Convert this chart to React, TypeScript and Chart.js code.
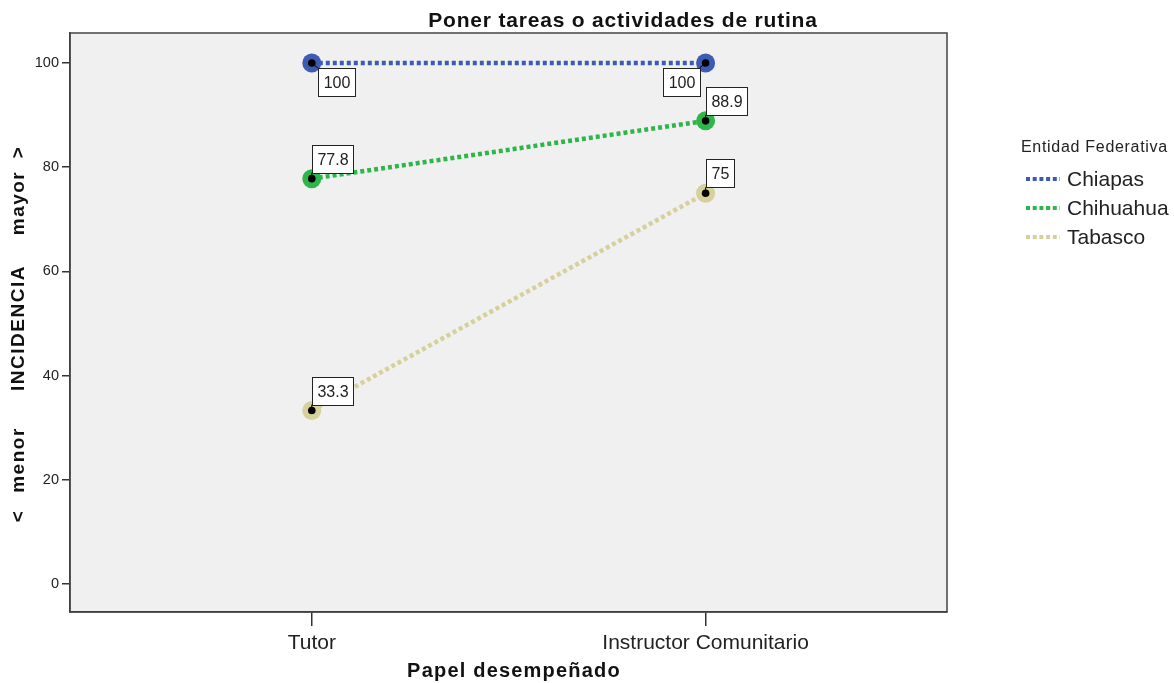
import React, { useEffect, useRef } from "react";
import { Chart, registerables } from "chart.js";

Chart.register(...registerables);

const categories = ["Tutor", "Instructor Comunitario"];
const seriesNames = ["Chiapas", "Chihuahua", "Tabasco"];
const chiapasValues = [100, 100];
const chihuahuaValues = [77.8, 88.9];
const tabascoValues = [33.3, 75];
const yTickValues = [0, 20, 40, 60, 80, 100];
const seriesColors = ["#3d5bb3", "#2fb64a", "#d6d09b"];
// label placement relative to each point
const labelPlacement = [
  ["se", "sw"],
  ["ne", "ne"],
  ["ne", "ne"],
];

const chartTitle = "Poner tareas o actividades de rutina";
const xTitle = "Papel desempeñado";
const legendTitle = "Entidad Federativa";

const FONT = "'Liberation Sans', Arial, sans-serif";

function fmt(v: number) {
  return Number.isInteger(v) ? String(v) : v.toFixed(1);
}

const customPlugin = {
  id: "spssLook",
  beforeDraw(chart: any) {
    const { ctx, chartArea } = chart;
    ctx.save();
    ctx.fillStyle = "#ffffff";
    ctx.fillRect(0, 0, chart.width, chart.height);
    ctx.fillStyle = "#f0f0f0";
    ctx.fillRect(chartArea.left, chartArea.top, chartArea.right - chartArea.left, chartArea.bottom - chartArea.top);
    ctx.restore();
  },
  afterDatasetsDraw(chart: any) {
    const { ctx } = chart;
    ctx.save();
    // black center dots
    chart.data.datasets.forEach((ds: any, di: number) => {
      const meta = chart.getDatasetMeta(di);
      meta.data.forEach((pt: any) => {
        ctx.beginPath();
        ctx.fillStyle = "#000";
        ctx.arc(pt.x, pt.y, 3.8, 0, Math.PI * 2);
        ctx.fill();
      });
    });
    // labels
    ctx.font = `16px ${FONT}`;
    ctx.textAlign = "center";
    ctx.textBaseline = "middle";
    chart.data.datasets.forEach((ds: any, di: number) => {
      const meta = chart.getDatasetMeta(di);
      meta.data.forEach((pt: any, i: number) => {
        const v = ds.data[i].y;
        const text = fmt(v);
        const tw = ctx.measureText(text).width;
        const bw = Math.round(tw + 10);
        const bh = 28;
        const place = labelPlacement[di][i];
        let bx = 0, by = 0, cx = 0, cy = 0;
        if (place === "se") {
          bx = pt.x + 6; by = pt.y + 5; cx = bx; cy = by;
        } else if (place === "sw") {
          bx = pt.x - 6 - bw; by = pt.y + 5; cx = bx + bw; cy = by;
        } else {
          bx = pt.x; by = pt.y - 6 - bh; cx = bx; cy = by + bh;
        }
        ctx.beginPath();
        ctx.strokeStyle = "#000";
        ctx.lineWidth = 1;
        ctx.moveTo(pt.x, pt.y);
        ctx.lineTo(cx, cy);
        ctx.stroke();
        ctx.fillStyle = "#fff";
        ctx.fillRect(Math.round(bx) + 0.5, Math.round(by) + 0.5, bw, bh);
        ctx.strokeStyle = "#222";
        ctx.strokeRect(Math.round(bx) + 0.5, Math.round(by) + 0.5, bw, bh);
        ctx.fillStyle = "#222";
        ctx.fillText(text, Math.round(bx) + 0.5 + bw / 2, Math.round(by) + 0.5 + bh / 2 + 1);
      });
    });
    ctx.restore();
  },
  afterDraw(chart: any) {
    const { ctx, chartArea } = chart;
    ctx.save();
    // plot border
    ctx.strokeStyle = "#444";
    ctx.lineWidth = 1.5;
    ctx.strokeRect(chartArea.left, chartArea.top, chartArea.right - chartArea.left, chartArea.bottom - chartArea.top);

    // title
    ctx.fillStyle = "#111";
    ctx.textBaseline = "middle";
    ctx.textAlign = "center";
    (ctx as any).letterSpacing = "0.8px";
    ctx.font = `bold 21px ${FONT}`;
    ctx.fillText(chartTitle, 623, 21);

    // x title
    (ctx as any).letterSpacing = "1.2px";
    ctx.font = `bold 20px ${FONT}`;
    ctx.fillText(xTitle, 514, 671);

    // y title pieces
    (ctx as any).letterSpacing = "1.5px";
    ctx.font = `bold 19px ${FONT}`;
    const pieces: [string, number][] = [
      [">", 152],
      ["mayor", 203],
      ["INCIDENCIA", 328],
      ["menor", 460],
      ["<", 516],
    ];
    pieces.forEach(([t, y]) => {
      ctx.save();
      ctx.translate(19, y);
      ctx.rotate(-Math.PI / 2);
      ctx.fillText(t, 0, 0);
      ctx.restore();
    });

    // legend
    ctx.textAlign = "left";
    (ctx as any).letterSpacing = "0.7px";
    ctx.font = `16px ${FONT}`;
    ctx.fillStyle = "#222";
    ctx.fillText(legendTitle, 1021, 148);
    (ctx as any).letterSpacing = "0px";
    ctx.font = `21px ${FONT}`;
    const ys = [179, 208, 237];
    chart.data.datasets.forEach((ds: any, di: number) => {
      const y = ys[di];
      ctx.beginPath();
      ctx.strokeStyle = ds.borderColor;
      ctx.lineWidth = 4;
      ctx.setLineDash([4, 2.7]);
      ctx.moveTo(1026, y);
      ctx.lineTo(1060, y);
      ctx.stroke();
      ctx.setLineDash([]);
      ctx.fillStyle = "#222";
      ctx.fillText(ds.label, 1067, y + 1);
    });
    ctx.restore();
  },
};

export default function App() {
  const ref = useRef<HTMLCanvasElement | null>(null);
  useEffect(() => {
    document.body.style.margin = "0";
    if (!ref.current) return;
    const series = [chiapasValues, chihuahuaValues, tabascoValues];
    const chart = new Chart(ref.current, {
      type: "line",
      data: {
        datasets: series.map((vals, di) => ({
          label: seriesNames[di],
          data: vals.map((v, i) => ({ x: i, y: v })),
          borderColor: seriesColors[di],
          backgroundColor: seriesColors[di],
          borderWidth: 4.5,
          borderDash: [4, 3],
          borderCapStyle: "butt",
          pointRadius: 9.5,
          pointHoverRadius: 9.5,
          pointBorderWidth: 0,
          pointBackgroundColor: seriesColors[di],
          fill: false,
          tension: 0,
          clip: false,
        })),
      },
      options: {
        responsive: false,
        animation: false,
        events: [],
        layout: { padding: { top: 33, right: 227, left: 0, bottom: 0 } },
        plugins: {
          legend: { display: false },
          title: { display: false },
          tooltip: { enabled: false },
        },
        scales: {
          x: {
            type: "linear",
            min: -0.614,
            max: 1.613,
            afterFit: (s: any) => { s.height = 71; },
            afterBuildTicks: (s: any) => { s.ticks = categories.map((_, i) => ({ value: i })); },
            ticks: {
              callback: (v: any) => categories[v as number] ?? "",
              font: { family: FONT, size: 21 },
              color: "#222",
              padding: 5,
              maxRotation: 0,
              autoSkip: false,
            },
            grid: { drawOnChartArea: false, drawTicks: true, tickLength: 14, color: "#333", lineWidth: 1.5 },
            border: { display: true, color: "#333", width: 1.5 },
          },
          y: {
            type: "linear",
            min: -5.37,
            max: 105.76,
            afterFit: (s: any) => { s.width = 70; },
            afterBuildTicks: (s: any) => { s.ticks = yTickValues.map((v) => ({ value: v })); },
            ticks: {
              font: { family: FONT, size: 14.5 },
              color: "#222",
              padding: 3,
            },
            grid: { drawOnChartArea: false, drawTicks: true, tickLength: 8, color: "#333", lineWidth: 1.5 },
            border: { display: true, color: "#333", width: 1.5 },
          },
        },
      },
      plugins: [customPlugin],
    } as any);
    return () => chart.destroy();
  }, []);
  return (
    <div style={{ width: 1174, height: 683 }}>
      <canvas ref={ref} width={1174} height={683} style={{ display: "block" }} />
    </div>
  );
}
